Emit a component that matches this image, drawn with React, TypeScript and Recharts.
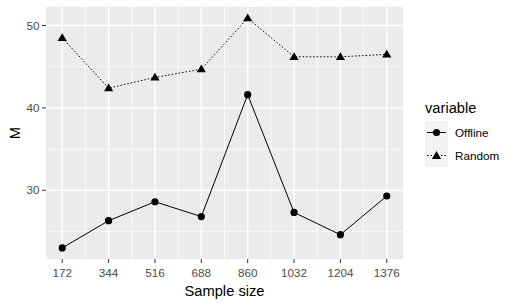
import React from 'react';
import {
  LineChart, Line, XAxis, YAxis, CartesianGrid, Label
} from 'recharts';

const sampleSizes = [172, 344, 516, 688, 860, 1032, 1204, 1376];
const offlineValues = [23.0, 26.3, 28.6, 26.8, 41.6, 27.3, 24.6, 29.3];
const randomValues = [48.5, 42.4, 43.7, 44.7, 50.9, 46.2, 46.2, 46.5];
const yTicks = [30, 40, 50];
const yMinor = [25, 35, 45];
const xMinor = [258, 430, 602, 774, 946, 1118, 1290];

const data = sampleSizes.map((n, i) => ({
  n,
  Offline: offlineValues[i],
  Random: randomValues[i],
}));

const FONT = '"Liberation Sans", Arial, sans-serif';
const tickStyle = { fill: '#4D4D4D', fontSize: 11.7, fontFamily: FONT };

// ggplot-ish filled triangle (shape 17)
const Triangle = (props: any) => {
  const { cx, cy, size = 4.6 } = props;
  if (cx == null || cy == null) return null;
  const h = size * 1.7;
  const pts = `${cx},${cy - h * 0.6} ${cx - size},${cy + h * 0.4} ${cx + size},${cy + h * 0.4}`;
  return <polygon key={`tri-${cx}`} points={pts} fill="#000" />;
};

const renderYTitle = ({ viewBox }: any) => (
  <text
    x={viewBox.x + 15}
    y={viewBox.y + viewBox.height / 2}
    transform={`rotate(-90, ${viewBox.x + 15}, ${viewBox.y + viewBox.height / 2})`}
    textAnchor="middle"
    dominantBaseline="central"
    fontSize={14.7}
    fontFamily={FONT}
    fill="#000"
  >
    M
  </text>
);

const renderXTitle = ({ viewBox }: any) => (
  <text
    x={viewBox.x + viewBox.width / 2}
    y={296}
    textAnchor="middle"
    fontSize={14.7}
    fontFamily={FONT}
    fill="#000"
  >
    Sample size
  </text>
);

const legendItems = [
  { name: 'Offline', dash: undefined as string | undefined, shape: 'circle' },
  { name: 'Random', dash: '1.5 2', shape: 'triangle' },
];

function LegendKey({ dash, shape }: { dash?: string; shape: string }) {
  return (
    <svg width={23} height={23} style={{ display: 'block' }}>
      <rect x={0} y={0} width={23} height={23} fill="#F2F2F2" />
      <line x1={2} y1={11.5} x2={21} y2={11.5} stroke="#000" strokeWidth={1} strokeDasharray={dash} />
      {shape === 'circle'
        ? <circle cx={11.5} cy={11.5} r={3.6} fill="#000" />
        : <Triangle cx={11.5} cy={11.8} />}
    </svg>
  );
}

export default function App() {
  return (
    <div style={{ position: 'absolute', left: 0, top: 0, width: 518, height: 306, background: '#fff', fontFamily: FONT }}>
      <LineChart width={518} height={306} data={data} margin={{ top: 7, right: 115, bottom: 0, left: 0 }}>
        <CartesianGrid
          fill="#EBEBEB"
          stroke="#fff"
          strokeWidth={1.4}
          horizontalValues={yTicks}
          verticalValues={sampleSizes}
        />
        <CartesianGrid
          fill="none"
          stroke="#fff"
          strokeWidth={0.7}
          horizontalValues={yMinor}
          verticalValues={xMinor}
        />
        <XAxis
          dataKey="n"
          type="number"
          domain={[111.8, 1436.2]}
          ticks={sampleSizes}
          interval={0}
          height={47}
          axisLine={false}
          tickLine={{ stroke: '#333', strokeWidth: 1 }}
          tickSize={4}
          tickMargin={6}
          tick={tickStyle}
        >
          <Label content={renderXTitle} />
        </XAxis>
        <YAxis
          type="number"
          domain={[21.65, 52.25]}
          ticks={yTicks}
          width={46}
          axisLine={false}
          tickLine={{ stroke: '#333', strokeWidth: 1 }}
          tickSize={4}
          tickMargin={2.5}
          tick={tickStyle}
        >
          <Label content={renderYTitle} />
        </YAxis>
        <Line
          dataKey="Offline"
          stroke="#000"
          strokeWidth={1}
          dot={{ r: 3.6, fill: '#000', stroke: 'none' }}
          activeDot={false}
          isAnimationActive={false}
        />
        <Line
          dataKey="Random"
          stroke="#000"
          strokeWidth={1}
          strokeDasharray="1.5 2"
          dot={(p: any) => <Triangle key={`t-${p.index}`} cx={p.cx} cy={p.cy} />}
          activeDot={false}
          isAnimationActive={false}
        />
      </LineChart>

      <div style={{ position: 'absolute', left: 425, top: 99 }}>
        <div style={{ fontSize: 14.7, color: '#000', marginBottom: 4, lineHeight: '18px' }}>variable</div>
        {legendItems.map((item) => (
          <div key={item.name} style={{ display: 'flex', alignItems: 'center', height: 23 }}>
            <LegendKey dash={item.dash} shape={item.shape} />
            <span style={{ fontSize: 11.7, color: '#000', marginLeft: 7 }}>{item.name}</span>
          </div>
        ))}
      </div>
    </div>
  );
}
